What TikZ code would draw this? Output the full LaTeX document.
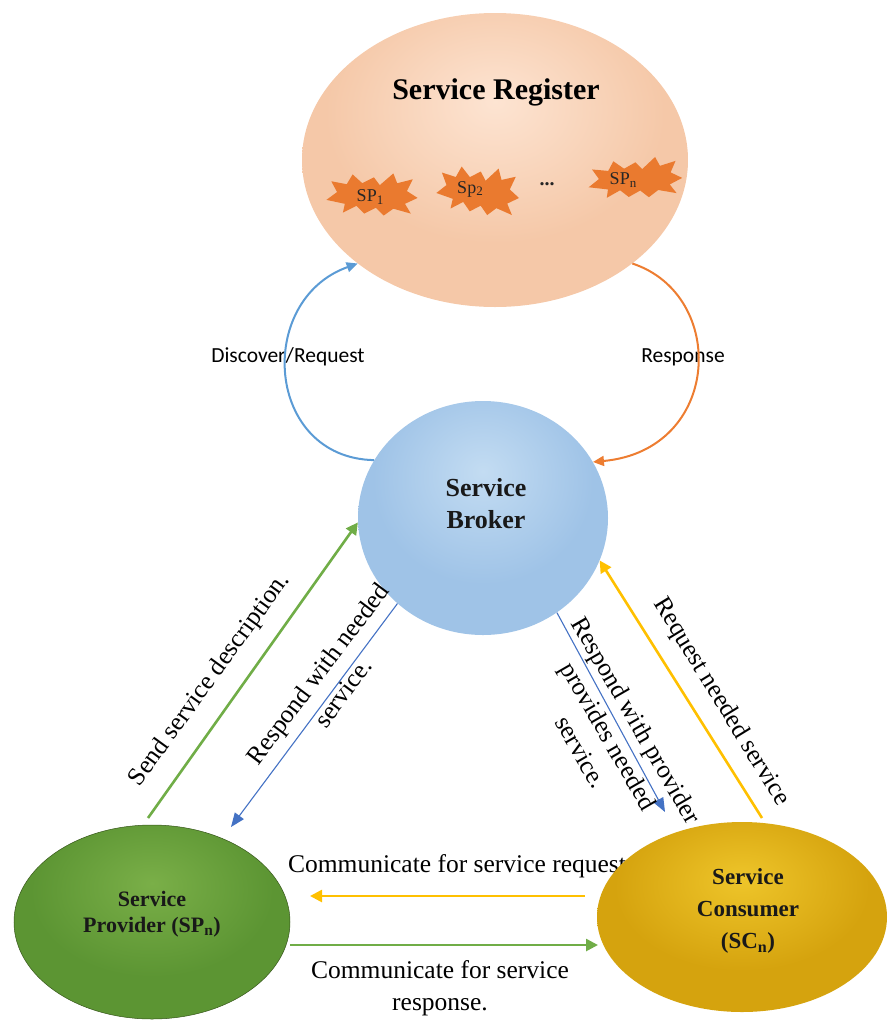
\documentclass[tikz,border=0pt]{standalone}
\usepackage{fontspec}
\setmainfont{Liberation Serif}
\newfontfamily\labelsans{Carlito}
\usetikzlibrary{arrows.meta,shapes.geometric}

% palette
\definecolor{regA}{HTML}{FDE4D2}
\definecolor{regB}{HTML}{F5C8A8}
\definecolor{regC}{HTML}{DDA27C}
\definecolor{brkA}{HTML}{C3DCF2}
\definecolor{brkB}{HTML}{9FC3E7}
\definecolor{brkC}{HTML}{7EA7D3}
\definecolor{prvA}{HTML}{7AAF48}
\definecolor{prvB}{HTML}{5C9533}
\definecolor{prvC}{HTML}{436C21}
\definecolor{conA}{HTML}{EEC52A}
\definecolor{conB}{HTML}{D5A30E}
\definecolor{conC}{HTML}{A98100}
\definecolor{blobfill}{HTML}{EA7A2F}
\definecolor{arcblue}{HTML}{5B9BD5}
\definecolor{arcorange}{HTML}{ED7D31}
\definecolor{lgreen}{HTML}{70AD47}
\definecolor{lyellow}{HTML}{FFC000}
\definecolor{lblue}{HTML}{4472C4}

% soft lit spheres, light source slightly above centre
\pgfdeclareradialshading{regshade}{\pgfpoint{0bp}{10bp}}{color(0bp)=(regA); color(22bp)=(regB); color(46bp)=(regB); color(62bp)=(regC); color(100bp)=(regC)}
\pgfdeclareradialshading{brkshade}{\pgfpoint{0bp}{10bp}}{color(0bp)=(brkA); color(22bp)=(brkB); color(46bp)=(brkB); color(62bp)=(brkC); color(100bp)=(brkC)}
\pgfdeclareradialshading{prvshade}{\pgfpoint{0bp}{10bp}}{color(0bp)=(prvA); color(22bp)=(prvB); color(46bp)=(prvB); color(62bp)=(prvC); color(100bp)=(prvC)}
\pgfdeclareradialshading{conshade}{\pgfpoint{0bp}{10bp}}{color(0bp)=(conA); color(22bp)=(conB); color(46bp)=(conB); color(62bp)=(conC); color(100bp)=(conC)}

% lowered index in the provider tags
\newcommand\tagidx[1]{\raisebox{-2.5pt}{\fontsize{13}{13}\selectfont #1}}

\tikzset{
  orb/.style={ellipse, inner sep=0pt},
  titletext/.style={font=\bfseries\fontsize{30}{34}\selectfont},
  orbtext/.style 2 args={align=center, font=\bfseries\fontsize{#1}{#2}\selectfont, text=black!90},
  lbl/.style={font=\fontsize{25.5}{32}\selectfont, align=center, inner sep=1pt},
  sanslbl/.style={font=\labelsans\fontsize{21.5}{24}\selectfont, inner sep=1pt},
  blobtext/.style={font=\fontsize{18}{20}\selectfont, text=black!85, inner sep=0pt},
  arcline/.style={line width=2pt, -{Triangle[length=11pt,width=10pt]}},
  thickline/.style={line width=2.6pt, -{Triangle[length=12pt,width=12pt]}},
  thinline/.style={line width=1.1pt, -{Triangle[length=14pt,width=11pt]}},
  spblob/.pic={
    \fill[blobfill] (-47,6) -- (-36,-2) -- (-42,-13) -- (-26,-10) -- (-20,-20)
      -- (-10,-11) -- (2,-17) -- (8,-9) -- (22,-21) -- (26,-11) -- (42,-15)
      -- (36,-3) -- (47,4) -- (34,10) -- (40,20) -- (22,15) -- (12,22)
      -- (4,14) -- (-8,20) -- (-16,12) -- (-30,19) -- (-28,10) -- cycle;
  }
}

\begin{document}
\begin{tikzpicture}[x=1pt,y=-1pt]
\useasboundingbox (0,0) rectangle (892,1021);

% ---------- service register with its providers ----------
\node[orb, shading=regshade, minimum width=386pt, minimum height=294pt] (register) at (495,160) {};
\node[titletext] (regtitle) at (496,92) {Service Register};
\pic[xscale=0.97,yscale=0.98] at (372,194) {spblob};
\pic[xscale=0.88,yscale=1.1,rotate=-4] at (478,190) {spblob};
\pic[xscale=1.0,yscale=0.92,rotate=5] at (635,178) {spblob};
\node[blobtext] (sp1) at (370,197) {SP\tagidx{1}};
\node[blobtext] (sp2) at (470,189) {Sp\tagidx{2}};
\node[blobtext, font=\bfseries\fontsize{20}{20}\selectfont] (spdots) at (547,184) {...};
\node[blobtext] (spn) at (623,180) {SP\tagidx{n}};

% ---------- service broker ----------
\node[orb, shading=brkshade, minimum width=250pt, minimum height=234pt] (broker) at (483,518) {};
\node[orbtext={26}{32}] (brokertext) at (486,504) {Service\\Broker};

% ---------- register <-> broker ----------
\node[sanslbl] (discover) at (288,357) {Discover/Request};
\node[sanslbl] (response) at (683,357) {Response};
\draw[arcline, arcblue] (broker.152) .. controls (265,458) and (255,300) .. (register.217);
\draw[arcline, arcorange] (register.323) .. controls (728,295) and (722,450) .. (broker.27);

% ---------- horizontal label under the consumer ----------
\node[lbl] (commreq) at (457,866) {Communicate for service request};

% ---------- provider and consumer ----------
\node[orb, shading=prvshade, draw=prvC!80!black, line width=0.5pt, minimum width=276pt, minimum height=194pt] (provider) at (152,922) {};
\node[orbtext={22}{26}] (providertext) at (152,914) {Service\\Provider (SP\textsubscript{n})};
\node[orb, shading=conshade, minimum width=290pt, minimum height=190pt] (consumer) at (742,917) {};
\node[orbtext={23}{32}] (consumertext) at (748,911) {Service\\Consumer\\(SC\textsubscript{n})};

% free ends of the diagonal and horizontal links
\coordinate (gstart) at (148,818);
\coordinate (bltip) at (231,827);
\coordinate (brtip) at (665,812);
\coordinate (ystart) at (762,818);
\coordinate (yhstart) at (585,896);
\coordinate (yhtip) at (310,896);
\coordinate (ghtip) at (598,945);

% ---------- provider <-> broker ----------
\draw[thickline, lgreen] (gstart) -- (broker.182);
\draw[thinline, lblue] (broker.225) -- (bltip);
\node[lbl, rotate=54] (sendlbl) at (210,680) {Send service description.};
\node[lbl, rotate=53] (resp1lbl) at (330,683) {Respond with needed\\service.};

% ---------- consumer <-> broker ----------
\draw[thinline, lblue] (broker.-52) -- (brtip);
\draw[thickline, lyellow] (ystart) -- (broker.-20);
\node[lbl, rotate=-60] (resp2lbl) at (609,736) {Respond with provider\\provides needed\\service.};
\node[lbl, rotate=-58.5] (reqlbl) at (721,702) {Request needed service};

% ---------- provider <-> consumer ----------
\draw[thickline, lyellow] (yhstart) -- (yhtip);
\draw[thickline, lgreen] (provider.east |- ghtip) -- (ghtip);
\node[lbl] (commresp) at (440,988) {Communicate for service\\response.};
\end{tikzpicture}
\end{document}
